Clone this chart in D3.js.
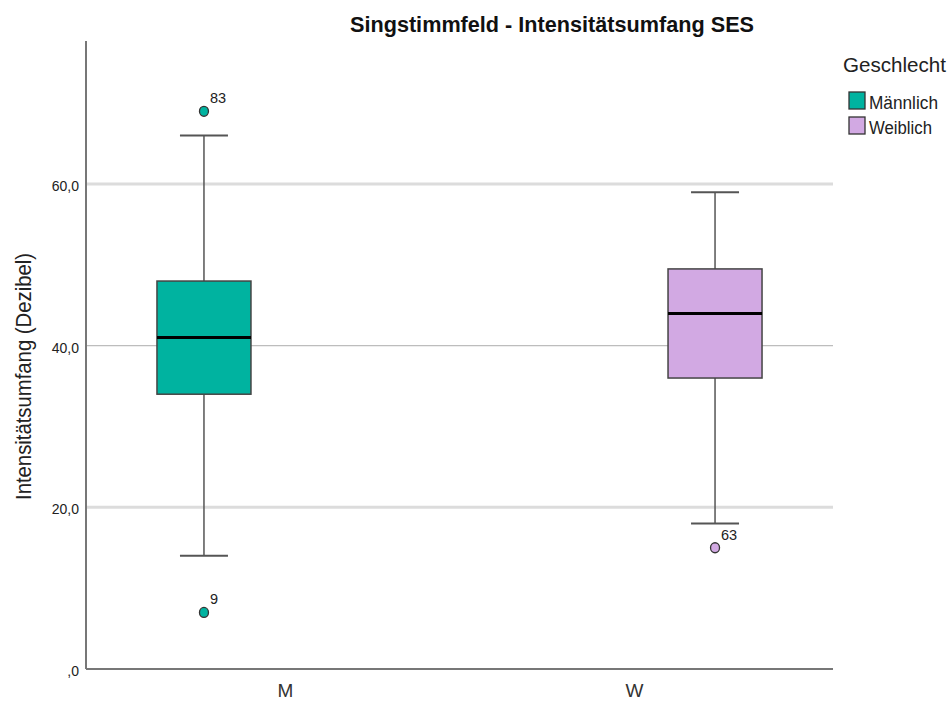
<!DOCTYPE html>
<html><head><meta charset="utf-8">
<script src="https://cdn.jsdelivr.net/npm/d3@7"></script>
<style>body{margin:0;background:#fff}svg{display:block}text{font-family:"Liberation Sans",Arial,sans-serif}</style>
</head><body><svg id="c" width="950" height="706"></svg>
<script>
const categories = ["M", "W"];
const groups = ["Männlich", "Weiblich"];
const colors = ["#00b3a0", "#d2a9e3"];
// boxes: category, group, whiskerLow, q1, median, q3, whiskerHigh
const boxCategory = ["M", "W"];
const boxGroup = ["Männlich", "Weiblich"];
const whiskerLow = [14, 18];
const q1 = [34, 36];
const median = [41, 44];
const q3 = [48, 49.5];
const whiskerHigh = [66, 59];
// outliers
const outCategory = ["M", "M", "W"];
const outGroup = ["Männlich", "Männlich", "Weiblich"];
const outValue = [69, 7, 15];
const outLabel = ["83", "9", "63"];
const yTicks = [0, 20, 40, 60];
const yTickLabels = [",0", "20,0", "40,0", "60,0"];

const svg = d3.select("#c");
const L = 86, R = 833, T = 41, B = 669;
const y = d3.scaleLinear().domain([0, 77.7]).range([B, T]);
const x = d3.scalePoint().domain(categories).range([L, R]).padding(0.57);
const inner = d3.scaleBand().domain(groups).range([-162, 162]);
const color = d3.scaleOrdinal().domain(groups).range(colors);
const boxW = 94, capW = 48;

// gridlines
svg.append("g").selectAll("line").data(yTicks.filter(d => d > 0)).join("line")
  .attr("x1", L).attr("x2", R).attr("y1", d => y(d)).attr("y2", d => y(d))
  .attr("stroke", d => d === 40 ? "#bdbdbd" : "#dcdcdc")
  .attr("stroke-width", d => d === 40 ? 1.2 : 3);

// axes
const yAxis = svg.append("g").attr("transform", `translate(${L},0)`)
  .call(d3.axisLeft(y).tickValues(yTicks).tickFormat((d, i) => yTickLabels[i]).tickSize(0).tickPadding(7));
yAxis.select(".domain").attr("stroke", "#777").attr("stroke-width", 2).attr("d", `M0,${T}V${B}`);
yAxis.selectAll("text").attr("font-size", 14).attr("fill", "#222").attr("dy", "0.45em");

const xAxis = svg.append("g").attr("transform", `translate(0,${B})`)
  .call(d3.axisBottom(x).tickSize(0).tickPadding(15));
xAxis.select(".domain").attr("stroke", "#777").attr("stroke-width", 2).attr("d", `M${L},0H${R}`);
xAxis.selectAll("text").attr("font-size", 19).attr("fill", "#333");

// boxes
const boxes = boxCategory.map((c, i) => ({c, g: boxGroup[i], lo: whiskerLow[i], q1: q1[i], med: median[i], q3: q3[i], hi: whiskerHigh[i]}));
const bg = svg.append("g").selectAll("g").data(boxes).join("g")
  .attr("transform", d => `translate(${x(d.c) + inner(d.g) + inner.bandwidth() / 2},0)`);
bg.append("line").attr("x1", 0).attr("x2", 0).attr("y1", d => y(d.hi)).attr("y2", d => y(d.q3)).attr("stroke", "#555").attr("stroke-width", 1.5);
bg.append("line").attr("x1", 0).attr("x2", 0).attr("y1", d => y(d.q1)).attr("y2", d => y(d.lo)).attr("stroke", "#555").attr("stroke-width", 1.5);
bg.append("line").attr("x1", -capW / 2).attr("x2", capW / 2).attr("y1", d => y(d.hi)).attr("y2", d => y(d.hi)).attr("stroke", "#555").attr("stroke-width", 2);
bg.append("line").attr("x1", -capW / 2).attr("x2", capW / 2).attr("y1", d => y(d.lo)).attr("y2", d => y(d.lo)).attr("stroke", "#555").attr("stroke-width", 2);
bg.append("rect").attr("x", -boxW / 2).attr("width", boxW).attr("y", d => y(d.q3)).attr("height", d => y(d.q1) - y(d.q3))
  .attr("fill", d => color(d.g)).attr("stroke", "#444").attr("stroke-width", 1.5);
bg.append("line").attr("x1", -boxW / 2).attr("x2", boxW / 2).attr("y1", d => y(d.med)).attr("y2", d => y(d.med)).attr("stroke", "#000").attr("stroke-width", 3);

// outliers
const outs = outValue.map((v, i) => ({c: outCategory[i], g: outGroup[i], v, lab: outLabel[i]}));
const og = svg.append("g").selectAll("g").data(outs).join("g")
  .attr("transform", d => `translate(${x(d.c) + inner(d.g) + inner.bandwidth() / 2},${y(d.v)})`);
og.append("ellipse").attr("rx", 4.5).attr("ry", 5).attr("fill", d => color(d.g)).attr("stroke", "#333").attr("stroke-width", 1.3);
og.append("text").attr("x", 6).attr("y", -8).attr("font-size", 14.5).attr("fill", "#222").text(d => d.lab);

// title
svg.append("text").attr("x", 552).attr("y", 32).attr("text-anchor", "middle").attr("font-size", 22).attr("font-weight", "bold").attr("fill", "#111")
  .attr("textLength", 404).attr("lengthAdjust", "spacingAndGlyphs")
  .text("Singstimmfeld - Intensitätsumfang SES");

// y label
svg.append("text").attr("transform", `translate(31,${(253 + 500) / 2}) rotate(-90)`).attr("text-anchor", "middle").attr("font-size", 22).attr("fill", "#222")
  .attr("textLength", 247).attr("lengthAdjust", "spacingAndGlyphs")
  .text("Intensitätsumfang (Dezibel)");

// legend
svg.append("text").attr("x", 843).attr("y", 72).attr("font-size", 21).attr("fill", "#222")
  .attr("textLength", 103).attr("lengthAdjust", "spacingAndGlyphs").text("Geschlecht");
const lg = svg.append("g").selectAll("g").data(groups).join("g").attr("transform", (d, i) => `translate(849,${92 + i * 25})`);
lg.append("rect").attr("width", 16).attr("height", 17).attr("fill", d => color(d)).attr("stroke", "#333").attr("stroke-width", 1.3);
lg.append("text").attr("x", 20).attr("y", 17).attr("font-size", 18).attr("fill", "#222")
  .attr("textLength", (d, i) => i === 0 ? 69 : 63).attr("lengthAdjust", "spacingAndGlyphs").text(d => d);
</script></body></html>
